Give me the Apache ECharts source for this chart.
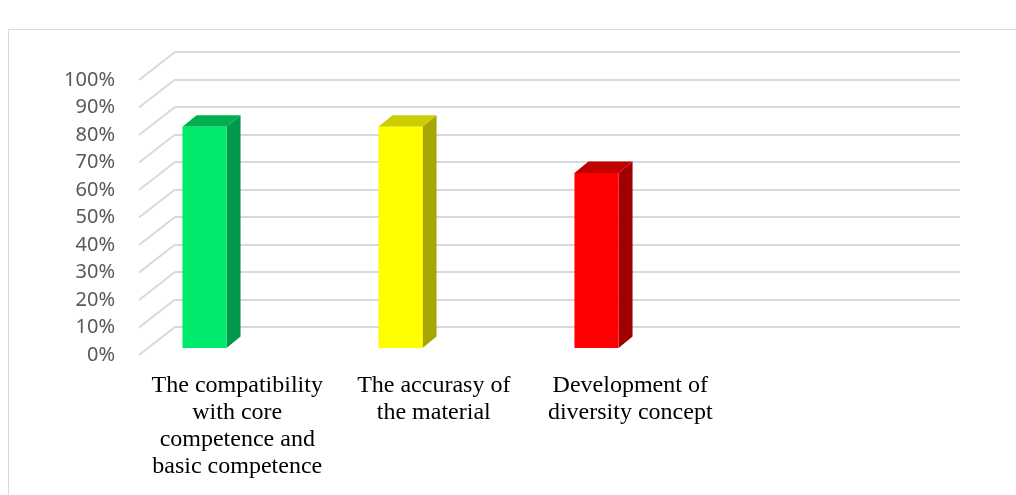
<!DOCTYPE html>
<html>
<head>
<meta charset="utf-8">
<script src="https://cdn.jsdelivr.net/npm/echarts@6/dist/echarts.min.js"></script>
<style>
  html, body { margin: 0; padding: 0; background: #fff; }
  #main { width: 1016px; height: 495px; }
</style>
</head>
<body>
<div id="main"></div>
<script>
// categories (last slot is empty in the original chart)
var categories = [
  'The compatibility\nwith core\ncompetence and\nbasic competence',
  'The accurasy of\nthe material',
  'Development of\ndiversity concept',
  ''
];
var values = [80.5, 80.5, 63.6];
var yTicks = [0, 10, 20, 30, 40, 50, 60, 70, 80, 90, 100];

// colours: front, side, top
var faceColors = [
  ['#00EB6B', '#00984A', '#00B050'],
  ['#FFFF00', '#A6A600', '#CCCC00'],
  ['#FF0000', '#A00000', '#C00000']
];

var DEPTH_X = 36, DEPTH_Y = 28;   // depth of the floor / walls
var BAR_DX = 14, BAR_DY = 11.5;   // depth of bars
var gridColor = '#d9d9d9';

var myChart = echarts.init(document.getElementById('main'));

var option = {
  animation: false,
  backgroundColor: '#fff',
  graphic: [{
    type: 'rect',
    shape: { x: 8.5, y: 29.5, width: 1020, height: 480 },
    style: { fill: 'none', stroke: '#d9d9d9', lineWidth: 1 },
    silent: true
  }],
  grid: [
    // back wall
    { left: 175, right: 56, top: 52, bottom: 168 },
    // front edge (labels + diagonals)
    { left: 139, right: 91, top: 80, bottom: 140 },
    // bars
    { left: 106.5, right: 125.5, top: 73, bottom: 147 }
  ],
  xAxis: [
    { type: 'category', gridIndex: 0, data: categories, show: false },
    {
      type: 'category', gridIndex: 1, data: categories,
      axisLine: { show: false }, axisTick: { show: false },
      axisLabel: {
        interval: 0, margin: 17,
        fontFamily: 'Liberation Serif', fontSize: 24, lineHeight: 27,
        color: '#000', align: 'center'
      }
    },
    { type: 'category', gridIndex: 2, data: categories, show: false }
  ],
  yAxis: [
    {
      type: 'value', gridIndex: 0, min: 0, max: 100, interval: 10,
      axisLabel: { show: false }, axisLine: { show: false }, axisTick: { show: false },
      splitLine: { lineStyle: { color: gridColor, width: 2 } }
    },
    {
      type: 'value', gridIndex: 1, min: 0, max: 100, interval: 10,
      axisLine: { show: false }, axisTick: { show: false }, splitLine: { show: false },
      axisLabel: {
        formatter: '{value}%', margin: 24, padding: [4, 0, 0, 0],
        fontFamily: 'Noto Sans', fontSize: 20, color: '#595959'
      }
    },
    { type: 'value', gridIndex: 2, min: 0, max: 100, show: false }
  ],
  series: [
    {
      // diagonal lines on the left wall
      type: 'custom',
      xAxisIndex: 1, yAxisIndex: 1,
      data: yTicks,
      silent: true,
      renderItem: function (params, api) {
        var x0 = params.coordSys.x;
        var y0 = api.coord([0, api.value(0)])[1];
        return {
          type: 'line',
          shape: { x1: x0, y1: y0, x2: x0 + DEPTH_X, y2: y0 - DEPTH_Y },
          style: { stroke: gridColor, lineWidth: 2 }
        };
      },
      encode: { y: 0 }
    },
    {
      // 3d bars
      type: 'custom',
      xAxisIndex: 2, yAxisIndex: 2,
      data: values.map(function (v, i) { return [i, v]; }),
      silent: true,
      renderItem: function (params, api) {
        var top = api.coord([api.value(0), api.value(1)]);
        var base = api.coord([api.value(0), 0]);
        var w = api.size([1, 0])[0] * 0.225;
        var xl = top[0] - w / 2, xr = top[0] + w / 2;
        var yt = top[1], yb = base[1];
        var c = faceColors[params.dataIndex];
        return {
          type: 'group',
          children: [
            {
              type: 'polygon',
              shape: { points: [[xr, yt], [xr + BAR_DX, yt - BAR_DY], [xr + BAR_DX, yb - BAR_DY], [xr, yb]] },
              style: { fill: c[1] }
            },
            {
              type: 'polygon',
              shape: { points: [[xl, yt], [xl + BAR_DX, yt - BAR_DY], [xr + BAR_DX, yt - BAR_DY], [xr, yt]] },
              style: { fill: c[2] }
            },
            {
              type: 'rect',
              shape: { x: xl, y: yt, width: w, height: yb - yt },
              style: { fill: c[0] }
            }
          ]
        };
      },
      encode: { x: 0, y: 1 }
    }
  ]
};

myChart.setOption(option);
window.addEventListener('resize', function () {
  myChart.resize();
});
</script>
</body>
</html>
